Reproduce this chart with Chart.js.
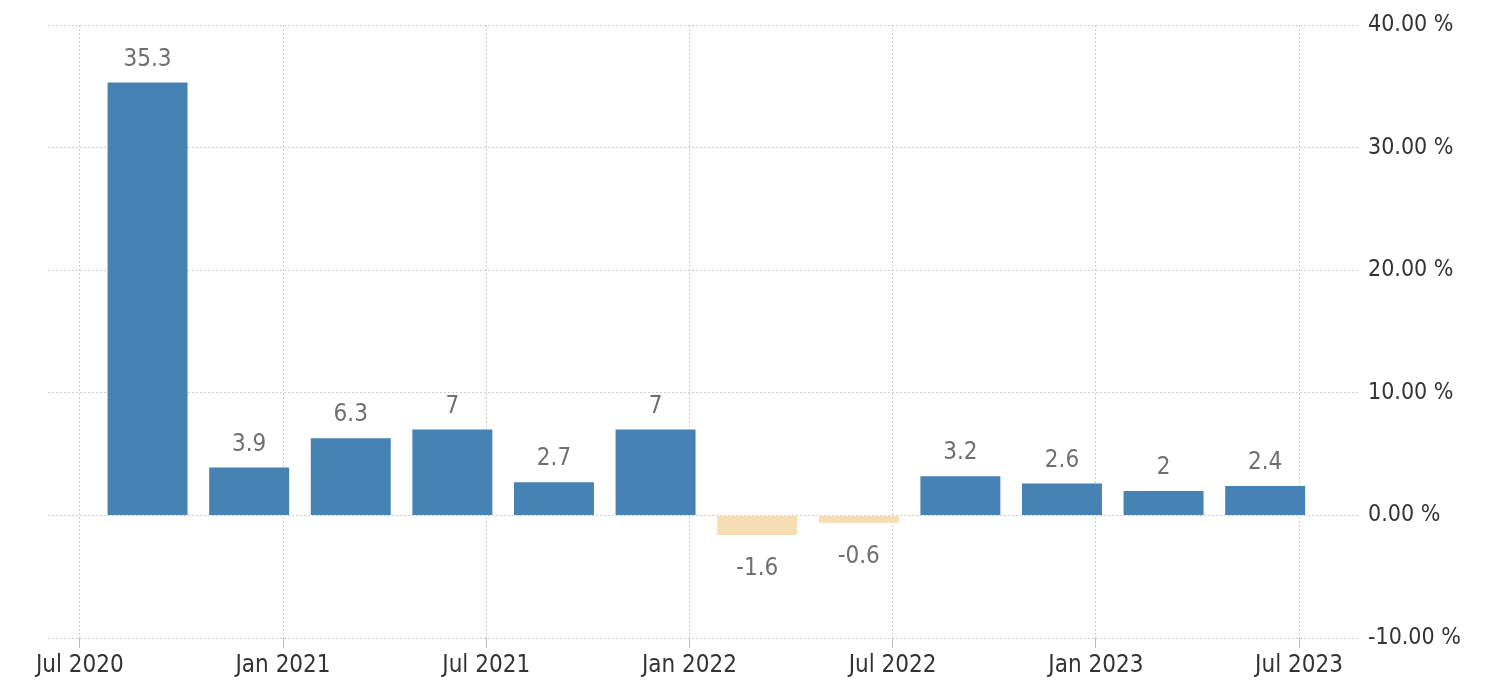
<!DOCTYPE html>
<html>
<head>
<meta charset="utf-8">
<script src="https://cdn.jsdelivr.net/npm/chart.js@4.4.1/dist/chart.umd.min.js"></script>
<style>
  html, body { margin: 0; padding: 0; background: #fff; }
</style>
</head>
<body>
<canvas id="growthChart" width="1485" height="695"></canvas>
<script>
// quarterly growth, bars placed by month counted from Jul 2020
const quarters = ['Q3 2020', 'Q4 2020', 'Q1 2021', 'Q2 2021', 'Q3 2021', 'Q4 2021',
                  'Q1 2022', 'Q2 2022', 'Q3 2022', 'Q4 2022', 'Q1 2023', 'Q2 2023'];
const quarterMonth = [2, 5, 8, 11, 14, 17, 20, 23, 26, 29, 32, 35];
const growth = [35.3, 3.9, 6.3, 7, 2.7, 7, -1.6, -0.6, 3.2, 2.6, 2, 2.4];

const tickMonths = [0, 6, 12, 18, 24, 30, 36];
const tickLabels = ['Jul 2020', 'Jan 2021', 'Jul 2021', 'Jan 2022', 'Jul 2022', 'Jan 2023', 'Jul 2023'];
const yTicks = [-10, 0, 10, 20, 30, 40];

const FONT = '"DejaVu Sans Condensed", "DejaVu Sans", sans-serif';

// value text above positive bars, below negative ones
const valueLabels = {
    id: 'valueLabels',
    afterDatasetsDraw(chart) {
        const ctx = chart.ctx;
        const meta = chart.getDatasetMeta(0);
        ctx.save();
        ctx.font = '24px ' + FONT;
        ctx.fillStyle = '#6f6f6f';
        ctx.textAlign = 'center';
        ctx.textBaseline = 'alphabetic';
        meta.data.forEach((bar, i) => {
            const v = growth[i];
            if (v >= 0) {
                ctx.fillText(String(v), bar.x, bar.y - 17);
            } else {
                ctx.fillText(String(v), bar.x, bar.y + 40);
            }
        });
        ctx.restore();
    }
};

new Chart(document.getElementById('growthChart'), {
    type: 'bar',
    data: {
        labels: quarters,
        datasets: [{
            label: 'GDP Growth Rate',
            data: quarterMonth.map((m, i) => ({ x: m, y: growth[i] })),
            backgroundColor: growth.map(v => v >= 0 ? '#4682b4' : '#f5deb3'),
            barPercentage: 0.787,
            categoryPercentage: 1
        }]
    },
    options: {
        responsive: false,
        animation: false,
        devicePixelRatio: 1,
        layout: { padding: { left: 48, top: 25, right: 0, bottom: 0 } },
        plugins: {
            legend: { display: false },
            tooltip: { enabled: false }
        },
        scales: {
            x: {
                type: 'linear',
                min: -0.94,
                max: 37.8,
                offset: false,
                afterBuildTicks: axis => { axis.ticks = tickMonths.map(v => ({ value: v })); },
                afterFit: axis => { axis.height = 57; },
                grid: {
                    offset: false,
                    color: '#cfcfcf',
                    tickColor: '#bdbdbd',
                    tickLength: 10,
                    tickBorderDash: []
                },
                border: { display: false, dash: [2, 2] },
                ticks: {
                    autoSkip: false,
                    maxRotation: 0,
                    padding: 3,
                    color: '#333',
                    font: { family: FONT, size: 24 },
                    callback: v => tickLabels[tickMonths.indexOf(v)]
                }
            },
            y: {
                position: 'right',
                min: -10,
                max: 40,
                afterBuildTicks: axis => { axis.ticks = yTicks.map(v => ({ value: v })); },
                afterFit: axis => { axis.width = 125; },
                grid: { color: '#cfcfcf', drawTicks: false },
                border: { display: false, dash: [2, 2] },
                ticks: {
                    padding: 8,
                    color: '#333',
                    font: { family: FONT, size: 23 },
                    callback: v => v.toFixed(2) + ' %'
                }
            }
        }
    },
    plugins: [valueLabels]
});
</script>
</body>
</html>
